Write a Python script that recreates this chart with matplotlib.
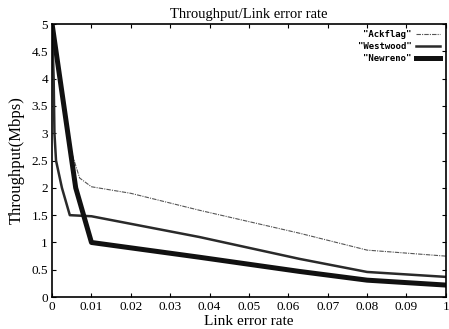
import matplotlib
matplotlib.use("Agg")
import matplotlib.pyplot as plt

x_ack = [0, 0.0045, 0.007, 0.01, 0.02, 0.0374, 0.0628, 0.08, 0.1]
y_ack = [5, 2.75, 2.18, 2.02, 1.9, 1.59, 1.17, 0.86, 0.75]

x_west = [0, 0.0004, 0.0006, 0.001, 0.0025, 0.0045, 0.01, 0.0374, 0.0628, 0.08, 0.1]
y_west = [5, 4.0, 3.0, 2.5, 2.0, 1.5, 1.48, 1.10, 0.70, 0.46, 0.37]

x_new = [0, 0.006, 0.01, 0.0374, 0.0628, 0.08, 0.1]
y_new = [5, 2.0, 1.0, 0.73, 0.47, 0.31, 0.22]

xticks = [0, 0.01, 0.02, 0.03, 0.04, 0.05, 0.06, 0.07, 0.08, 0.09, 0.1]
xtick_labels = ["0", "0.01", "0.02", "0.03", "0.04", "0.05", "0.06", "0.07", "0.08", "0.09", "1"]
yticks = [0, 0.5, 1, 1.5, 2, 2.5, 3, 3.5, 4, 4.5, 5]
ytick_labels = ["0", "0.5", "1", "1.5", "2", "2.5", "3", "3.5", "4", "4.5", "5"]

plt.rcParams['font.family'] = ['Liberation Serif', 'DejaVu Serif']

fig = plt.figure(figsize=(4.49, 3.29), dpi=100)
ax = fig.add_axes([0.116, 0.097, 0.877, 0.830])

ax.plot(x_ack, y_ack, color='#555555', lw=0.8, ls=(0, (4, 1, 1, 1)), label='"Ackflag"')
ax.plot(x_west, y_west, color='#2a2a2a', lw=1.8, label='"Westwood"')
ax.plot(x_new, y_new, color='#111111', lw=3.6, label='"Newreno"')

ax.set_xlim(0, 0.1)
ax.set_ylim(0, 5)
ax.set_xticks(xticks)
ax.set_xticklabels(xtick_labels)
ax.set_yticks(yticks)
ax.set_yticklabels(ytick_labels)
ax.tick_params(direction='in', top=True, right=True, labelsize=9.5, length=3, width=0.8, pad=3)
for s in ax.spines.values():
    s.set_linewidth(1.2)

ax.set_title('Throughput/Link error rate', fontsize=10.5, pad=4)
ax.set_xlabel('Link error rate', fontsize=11, labelpad=1)
ax.set_ylabel('Throughput(Mbps)', fontsize=12, labelpad=5)

leg = ax.legend(loc='upper right', frameon=False, markerfirst=False,
                prop={'family': 'DejaVu Sans Mono', 'weight': 'bold', 'size': 6.5},
                handlelength=2.6, labelspacing=0.3, borderaxespad=0.3, handletextpad=0.5)

fig.savefig('out.png', dpi=100)
